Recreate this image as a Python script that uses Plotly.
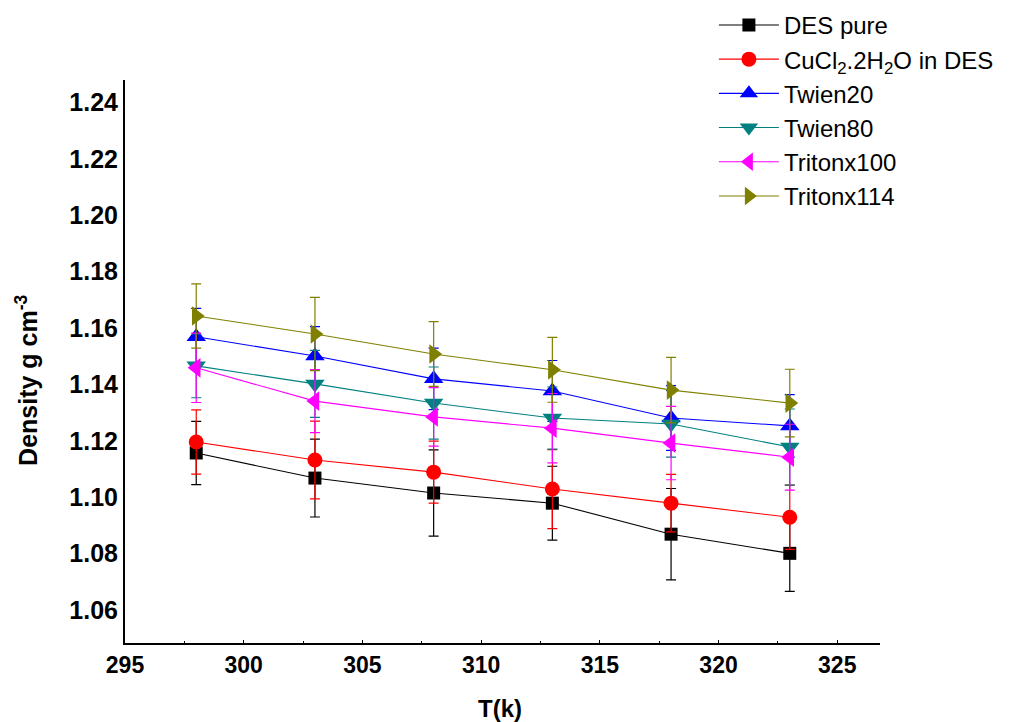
import plotly.graph_objects as go

temps = [298, 303, 308, 313, 318, 323]

names = ["DES pure", "CuCl<sub>2</sub>.2H<sub>2</sub>O in DES", "Twien20", "Twien80", "Tritonx100", "Tritonx114"]

des_pure = [1.1157, 1.1068, 1.1015, 1.0979, 1.0869, 1.0801]
cucl2 = [1.1196, 1.1132, 1.1089, 1.1029, 1.0979, 1.0929]
twien20 = [1.1569, 1.1501, 1.1420, 1.1377, 1.1281, 1.1253]
twien80 = [1.1466, 1.1402, 1.1334, 1.1281, 1.1260, 1.1178]
tritonx100 = [1.1459, 1.1341, 1.1285, 1.1245, 1.1192, 1.1142]
tritonx114 = [1.1643, 1.1579, 1.1508, 1.1452, 1.1380, 1.1334]

err_des_pure = [0.0112, 0.0138, 0.0153, 0.0131, 0.0162, 0.0135]
err_cucl2 = [0.0114, 0.0138, 0.0110, 0.0140, 0.0102, 0.0114]
err_twien20 = [0.0101, 0.0104, 0.0109, 0.0108, 0.0115, 0.0111]
err_twien80 = [0.0113, 0.0119, 0.0128, 0.0110, 0.0118, 0.0135]
err_tritonx100 = [0.0123, 0.0112, 0.0104, 0.0123, 0.0130, 0.0117]
err_tritonx114 = [0.0114, 0.0130, 0.0115, 0.0115, 0.0116, 0.0120]

x_ticks = [295, 300, 305, 310, 315, 320, 325]
y_ticks = [1.06, 1.08, 1.10, 1.12, 1.14, 1.16, 1.18, 1.20, 1.22, 1.24]

series = [des_pure, cucl2, twien20, twien80, tritonx100, tritonx114]
errors = [err_des_pure, err_cucl2, err_twien20, err_twien80, err_tritonx100, err_tritonx114]
colors = ["#000000", "#ff0000", "#0000ff", "#008080", "#ff00ff", "#808000"]
symbols = ["square", "circle", "triangle-up", "triangle-down", "triangle-left", "triangle-right"]
sizes = [13, 15, 17, 17, 17, 17]

fig = go.Figure()
for name, ys, es, c, s, sz in zip(names, series, errors, colors, symbols, sizes):
    fig.add_trace(go.Scatter(
        x=temps, y=ys, name=name, mode="lines+markers",
        line=dict(color=c, width=1.1),
        marker=dict(symbol=s, size=sz, color=c, line=dict(width=0)),
        error_y=dict(type="data", array=es, visible=True, color=c, thickness=1.2, width=5),
    ))

font_family = "Liberation Sans, Arial, sans-serif"
fig.update_layout(
    width=1014, height=722,
    margin=dict(l=125, r=134, t=80, b=79, autoexpand=False),
    paper_bgcolor="white", plot_bgcolor="white",
    font=dict(family=font_family, color="black"),
    showlegend=True,
    legend=dict(
        x=0.78, y=1.137, xanchor="left", yanchor="top",
        font=dict(size=24, family=font_family, color="black"),
        bgcolor="rgba(0,0,0,0)", itemwidth=60, tracegroupgap=0,
    ),
    xaxis=dict(
        range=[295, 326.8], tickmode="array", tickvals=x_ticks,
        ticktext=["<b>%d</b>" % v for v in x_ticks],
        showline=True, linecolor="black", linewidth=2, mirror=False,
        showgrid=False, zeroline=False, automargin=False,
        ticks="inside", ticklen=3, tickcolor="black", tickwidth=1,
        minor=dict(ticks="inside", ticklen=2, dtick=2.5, tickcolor="black", showgrid=False),
        tickfont=dict(size=23, family=font_family),
    ),
    yaxis=dict(
        range=[1.0483, 1.248], tickmode="array", tickvals=y_ticks,
        ticktext=["<b>%.2f</b>" % v for v in y_ticks],
        showline=True, linecolor="black", linewidth=2, mirror=False,
        showgrid=False, zeroline=False, ticks="", automargin=False,
        tickfont=dict(size=25, family=font_family),
    ),
    annotations=[
        dict(text="<b>T(k)</b>", xref="paper", yref="paper", x=0.497, y=-0.1155,
             xanchor="center", yanchor="middle", showarrow=False,
             font=dict(size=24, family=font_family, color="black")),
        dict(text="<b>Density g cm<sup>-3</sup></b>", xref="paper", yref="paper",
             x=-0.13, y=0.467, xanchor="center", yanchor="middle", textangle=-90,
             showarrow=False, font=dict(size=25, family=font_family, color="black")),
    ],
)

fig.write_html("out.html")
